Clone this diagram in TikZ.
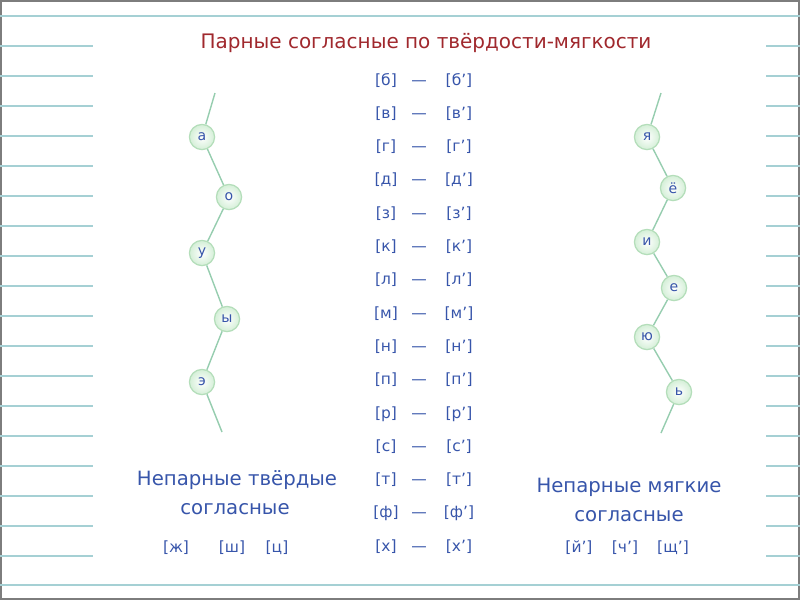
\documentclass[tikz,border=0pt]{standalone}
\usepackage{fontspec}
\setmainfont{DejaVu Sans}
\usepackage{tikz}
\usetikzlibrary{positioning}
\definecolor{titlered}{RGB}{160,40,45}
\definecolor{letterblue}{RGB}{55,85,170}
\definecolor{rulecyan}{RGB}{165,208,212}
\definecolor{framegray}{RGB}{125,125,125}
\definecolor{beadrim}{RGB}{180,222,186}
\definecolor{beadfill}{RGB}{212,239,215}
\definecolor{chaingreen}{RGB}{150,205,175}

\begin{document}
\begin{tikzpicture}[x=0.025cm, y=-0.025cm,
    rule/.style={draw=rulecyan, line width=1.4pt},
    chain/.style={draw=chaingreen, line width=1pt},
    bead/.style={circle, draw=beadrim, line width=0.9pt, inner color=white, outer color=beadfill,
                 minimum size=0.63cm, inner sep=0pt, text=letterblue, font=\fontsize{10}{12}\selectfont},
    sound/.style={text=letterblue, inner sep=0pt, anchor=base, font=\fontsize{11}{13}\selectfont},
    label/.style={text=letterblue, inner sep=0pt, anchor=base, font=\fontsize{14}{17}\selectfont}]

\useasboundingbox (0,0) rectangle (800,600);
\draw[framegray, line width=1.4pt] (1,1) rectangle (799,599);
\draw[rule] (0,16) -- (800,16);
\draw[rule] (0,585) -- (800,585);
\foreach \y in {46,76,...,556} {
  \draw[rule] (0,\y) -- (93,\y);
  \draw[rule] (766,\y) -- (800,\y);
}

\node[text=titlered, anchor=base, inner sep=0pt, font=\fontsize{14.2}{17}\selectfont] (title) at (426,48)
  {Парные согласные по твёрдости-мягкости};

\foreach \c [count=\i from 0] in {б,в,г,д,з,к,л,м,н,п,р,с,т,ф,х} {
  \node[sound] (hard\i) at (386,85+33.3*\i) {[\c]};
  \node[sound] (dash\i) at (419,85+33.3*\i) {—};
  \node[sound] (soft\i) at (459,85+33.3*\i) {[\c’]};
}

\coordinate (ltop) at (215,93);
\coordinate (lbot) at (222,432);
\node[bead] (va) at (202,137) {а};
\node[bead] (vo) at (229,197) {о};
\node[bead] (vu) at (202,253) {у};
\node[bead] (vy) at (227,319) {ы};
\node[bead] (ve) at (202,382) {э};
\draw[chain] (ltop) -- (va) -- (vo) -- (vu) -- (vy) -- (ve) -- (lbot);

\coordinate (rtop) at (661,93);
\coordinate (rbot) at (661,433);
\node[bead] (vja) at (647,137) {я};
\node[bead] (vjo) at (673,188) {ё};
\node[bead] (vi) at (647,242) {и};
\node[bead] (vje) at (674,288) {е};
\node[bead] (vju) at (647,337) {ю};
\node[bead] (vsoft) at (679,392) {ь};
\draw[chain] (rtop) -- (vja) -- (vjo) -- (vi) -- (vje) -- (vju) -- (vsoft) -- (rbot);

\node[label] (hardlbl1) at (237,485) {Непарные твёрдые};
\node[label] (hardlbl2) at (235,514) {согласные};
\node[sound] (zh) at (176,552) {[ж]};
\node[sound] (sh) at (232,552) {[ш]};
\node[sound] (ts) at (277,552) {[ц]};

\node[label] (softlbl1) at (629,492) {Непарные мягкие};
\node[label] (softlbl2) at (629,521) {согласные};
\node[sound] (jj) at (579,552) {[й’]};
\node[sound] (ch) at (625,552) {[ч’]};
\node[sound] (shch) at (673,552) {[щ’]};
\end{tikzpicture}
\end{document}
